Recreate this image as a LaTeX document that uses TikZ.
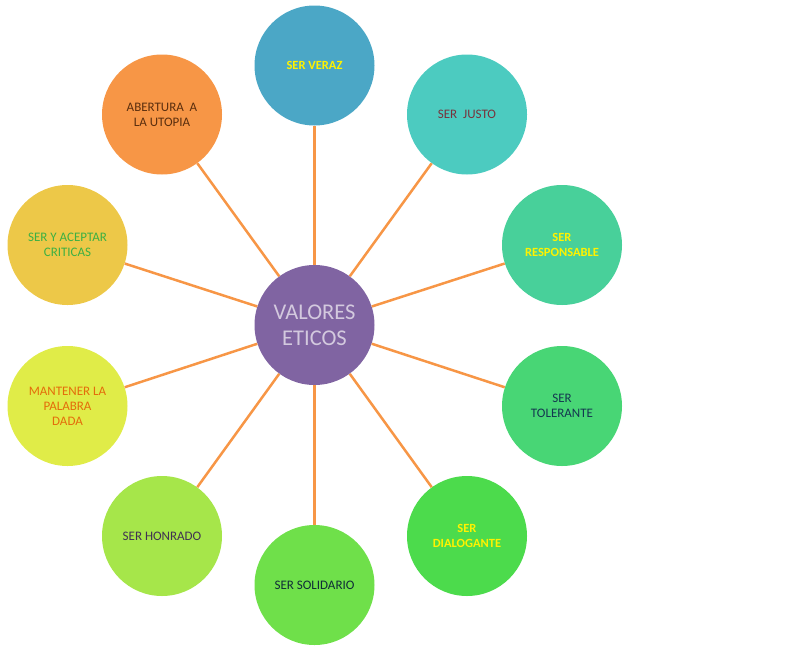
\documentclass[tikz,border=0pt]{standalone}
\usepackage{fontspec}
\setmainfont{Carlito}
\definecolor{linea}{HTML}{F79646}
\definecolor{centro}{HTML}{8064A2}
\tikzset{
    valor/.style={circle, minimum size=120pt, inner sep=0pt, align=center, font=\fontsize{13}{15}\selectfont},
    conector/.style={draw=linea, line width=2.5pt}
}
\begin{document}
\begin{tikzpicture}[x=1pt,y=-1pt]
        \useasboundingbox (0,0) rectangle (800,651);
        \node [valor, fill=centro, text=centro!35!white, font=\fontsize{22.5}{26}\selectfont] (etico) at (314.5,325) {VALORES\\ETICOS};
        \node [valor, fill={rgb,255:red,75;green,167;blue,198}, text=yellow, font=\fontsize{12.5}{15}\selectfont\bfseries] (veraz) at (314.5,65.5) {SER VERAZ};
        \node [valor, fill={rgb,255:red,76;green,203;blue,192}, text={rgb,255:red,120;green,50;blue,60}] (justo) at (467,114.5) {SER\ \ JUSTO};
        \node [valor, fill={rgb,255:red,72;green,208;blue,154}, text=yellow, font=\fontsize{12.5}{15}\selectfont\bfseries] (responsable) at (562,245) {SER\\RESPONSABLE};
        \node [valor, fill={rgb,255:red,72;green,214;blue,117}, text={rgb,255:red,20;green,55;blue,80}] (tolerante) at (562,406) {SER\\TOLERANTE};
        \node [valor, fill={rgb,255:red,76;green,219;blue,76}, text=yellow, font=\fontsize{12.5}{15}\selectfont\bfseries] (dialogante) at (467,536) {SER\\DIALOGANTE};
        \node [valor, fill={rgb,255:red,111;green,224;blue,74}, text={rgb,255:red,15;green,45;blue,55}] (solidario) at (314.5,585) {SER SOLIDARIO};
        \node [valor, fill={rgb,255:red,166;green,230;blue,74}, text={rgb,255:red,64;green,49;blue,82}] (honrado) at (162,536) {SER HONRADO};
        \node [valor, fill={rgb,255:red,224;green,236;blue,72}, text={rgb,255:red,228;green,108;blue,10}] (palabra) at (67.5,406) {MANTENER LA\\PALABRA\\DADA};
        \node [valor, fill={rgb,255:red,237;green,200;blue,72}, text={rgb,255:red,60;green,176;blue,67}] (criticas) at (67.5,245) {SER Y ACEPTAR\\CRITICAS};
        \node [valor, fill=linea, text={rgb,255:red,90;green,46;blue,14}] (utopia) at (162,114.5) {ABERTURA\ \ A\\LA UTOPIA};
        % conectores
        \draw [conector] (etico) -- (veraz);
        \draw [conector] (etico) -- (justo);
        \draw [conector] (etico) -- (responsable);
        \draw [conector] (etico) -- (tolerante);
        \draw [conector] (etico) -- (dialogante);
        \draw [conector] (etico) -- (solidario);
        \draw [conector] (etico) -- (honrado);
        \draw [conector] (etico) -- (palabra);
        \draw [conector] (etico) -- (criticas);
        \draw [conector] (etico) -- (utopia);
\end{tikzpicture}
\end{document}
